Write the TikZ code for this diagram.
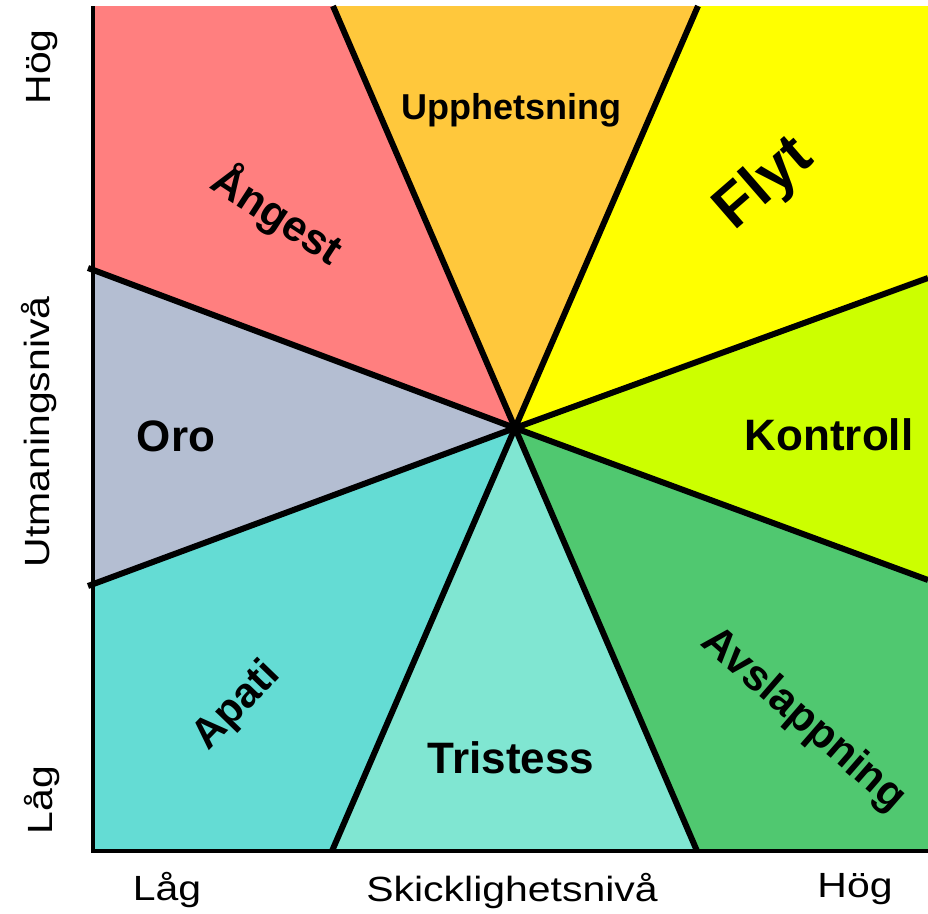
\documentclass[tikz,border=0pt]{standalone}
\usepackage{fontspec}
\setmainfont{Liberation Sans}
\usetikzlibrary{positioning}

\definecolor{angestcol}{RGB}{255,127,127}
\definecolor{upphcol}{RGB}{255,200,60}
\definecolor{flytcol}{RGB}{255,255,0}
\definecolor{kontrollcol}{RGB}{204,255,0}
\definecolor{avslapcol}{RGB}{80,200,112}
\definecolor{tristcol}{RGB}{128,230,210}
\definecolor{apaticol}{RGB}{100,220,212}
\definecolor{orocol}{RGB}{180,190,210}

\begin{document}
\begin{tikzpicture}[x=1pt,y=-1pt]
\tikzset{spoke/.style={line width=6pt}}
\tikzset{frameline/.style={line width=4pt}}
\tikzset{mood/.style={font=\bfseries\fontsize{44}{50}\selectfont,inner sep=0pt}}
\tikzset{axislabel/.style={font=\fontsize{35}{40}\selectfont,inner sep=0pt,xscale=1.17}}

\useasboundingbox (0,0) rectangle (928,913);

  \coordinate (C)  at (515,428);
  \coordinate (TL) at (93,6);
  \coordinate (TR) at (928,6);
  \coordinate (BR) at (928,851);
  \coordinate (BL) at (93,851);
  \coordinate (T1) at (333,6);
  \coordinate (T2) at (698,6);
  \coordinate (L1) at (93,270);
  \coordinate (L2) at (93,584);
  \coordinate (R1) at (928,278);
  \coordinate (R2) at (928,580);
  \coordinate (B1) at (332,851);
  \coordinate (B2) at (697,851);
  \coordinate (L1x) at (88,268);
  \coordinate (L2x) at (88,586);

% sectors
\fill[angestcol]   (C) -- (L1) -- (TL) -- (T1) -- cycle;
\fill[upphcol]     (C) -- (T1) -- (T2) -- cycle;
\fill[flytcol]     (C) -- (T2) -- (TR) -- (R1) -- cycle;
\fill[kontrollcol] (C) -- (R1) -- (R2) -- cycle;
\fill[avslapcol]   (C) -- (R2) -- (BR) -- (B2) -- cycle;
\fill[tristcol]    (C) -- (B2) -- (B1) -- cycle;
\fill[apaticol]    (C) -- (B1) -- (BL) -- (L2) -- cycle;
\fill[orocol]      (C) -- (L2) -- (L1) -- cycle;

% frame
\draw[frameline] (TL) -- (BL) -- (BR);

% spokes
\draw[spoke] (C) -- (T1);
\draw[spoke] (C) -- (T2);
\draw[spoke] (C) -- (R1);
\draw[spoke] (C) -- (R2);
\draw[spoke] (C) -- (B1);
\draw[spoke] (C) -- (B2);
\draw[spoke] (C) -- (L1x);
\draw[spoke] (C) -- (L2x);

% labels
\node[mood,font=\bfseries\fontsize{36}{42}\selectfont] (upph) at (511,110) {Upphetsning};
\node[mood,rotate=-33,font=\bfseries\fontsize{43}{48}\selectfont] (angest) at (277,215) {Ångest};
\node[mood,rotate=41,font=\bfseries\fontsize{60}{66}\selectfont] (flyt) at (765,185) {Flyt};
\node[mood] (oro) at (176,436) {Oro};
\node[mood] (kontroll) at (829,435) {Kontroll};
\node[mood,rotate=46,font=\bfseries\fontsize{42}{48}\selectfont] (apati) at (237,706) {Apati};
\node[mood] (tristess) at (511,758) {Tristess};
\node[mood,rotate=-41,font=\bfseries\fontsize{43}{48}\selectfont] (avslap) at (803,720) {Avslappning};

\node[rotate=90,axislabel] (yhog) at (42,67) {Hög};
\node[rotate=90,axislabel] (ytitle) at (39,432) {Utmaningsnivå};
\node[rotate=90,axislabel] (ylag) at (42,800) {Låg};
\node[axislabel] (xlag) at (167,890) {Låg};
\node[axislabel] (xtitle) at (512,891) {Skicklighetsnivå};
\node[axislabel] (xhog) at (855,889) {Hög};
\end{tikzpicture}
\end{document}
